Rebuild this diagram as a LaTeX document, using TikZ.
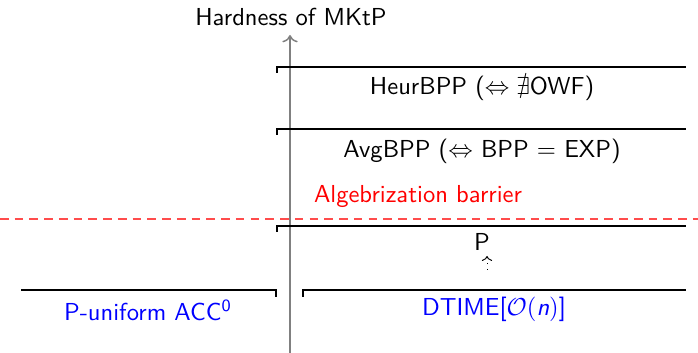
\documentclass[tikz,border=0pt]{standalone}
\usepackage{amsmath,amssymb}
\usepackage{tikz}
\usetikzlibrary{arrows.meta}

\begin{document}
\begin{tikzpicture}[x=0.407pt,y=-0.407pt,
lbl/.style={inner sep=1pt,font=\sffamily},
level/.style={semithick},
axis/.style={semithick,gray,-{To[length=3pt]}}]
\useasboundingbox (0,0) rectangle (698,353);
% axis
\node[lbl] (hardness) at (291,17) {Hardness of MKtP};
\coordinate (axbot) at (290,353);
\coordinate (axtop) at (290,35);
\draw[axis] (axbot) -- (axtop);
% levels above the barrier
\draw[level] (277,73) -- (277,67) -- (686,67);
\node[lbl] (heur) at (482,88) {HeurBPP ($\Leftrightarrow\nexists$OWF)};
\draw[level] (277,135) -- (277,129) -- (686,129);
\node[lbl] (avg) at (482,151) {AvgBPP ($\Leftrightarrow$ BPP $=$ EXP)};
% barrier
\node[lbl,red] (barrier) at (418,197) {Algebrization barrier};
\draw[red!70,line width=0.45pt,dash pattern=on 3.5pt off 2.5pt] (0,219) -- (698,219);
% levels below the barrier
\draw[level] (277,232) -- (277,226) -- (686,226);
\node[lbl] (p) at (482,242) {P};
\draw[level] (303,297) -- (303,290) -- (686,290);
\node[lbl,blue] (dtime) at (494,309) {DTIME[$\mathcal{O}(\textit{n})$]};
\draw[level] (21,290) -- (276,290) -- (276,297);
\node[lbl,blue] (acc) at (148,310) {P-uniform ACC$^{\textsf{0}}$};
\coordinate (dtop) at (487,270);
\coordinate (ptip) at (487,256);
\draw[dotted,-{To[length=2pt]}] (dtop) -- (ptip);
\end{tikzpicture}
\end{document}
